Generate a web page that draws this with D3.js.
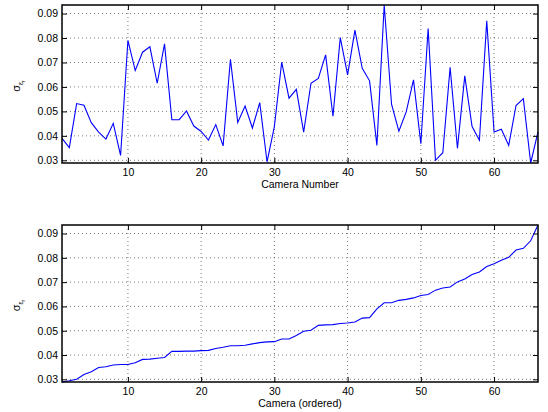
<!DOCTYPE html>
<html>
  <head>
    <meta charset="utf-8">
    <script src="https://d3js.org/d3.v7.min.js"></script>
    <style>
    body {
      margin: 0;
      background: #fff;
    }

    svg {
      display: block;
      font-family: "Liberation Sans", Arial, Helvetica, sans-serif;
    }

    .grid line {
      stroke: #444;
      stroke-width: 0.7;
      stroke-dasharray: 1, 3;
    }

    .axis text {
      font-size: 10.5px;
      fill: #000;
    }

    .axis line {
      stroke: #000;
    }

    .axis path {
      display: none;
    }
  </style>
  </head>
  <body>
    <div id="chart"></div>
    <script>
    // sigma per camera
    var cameraSigma = [
      0.0390, 0.0352, 0.0532, 0.0525, 0.0454, 0.0415, 0.0387, 0.0451, 0.0320, 0.0790,
      0.0667, 0.0742, 0.0764, 0.0615, 0.0776, 0.0466, 0.0466, 0.0502, 0.0440, 0.0418,
      0.0383, 0.0446, 0.0359, 0.0713, 0.0455, 0.0522, 0.0432, 0.0536, 0.0294, 0.0438,
      0.0701, 0.0554, 0.0590, 0.0415, 0.0615, 0.0635, 0.0731, 0.0480, 0.0802, 0.0649,
      0.0832, 0.0676, 0.0625, 0.0361, 0.0935, 0.0530, 0.0419, 0.0498, 0.0629, 0.0368,
      0.0839, 0.0300, 0.0331, 0.0680, 0.0349, 0.0645, 0.0438, 0.0382, 0.0870, 0.0416,
      0.0427, 0.0361, 0.0524, 0.0552, 0.0289, 0.0416
    ];

    // same values, ordered (bottom panel)
    var orderedSigma = [
      0.0289, 0.0294, 0.0300, 0.0320, 0.0331, 0.0349, 0.0352, 0.0359, 0.0361, 0.0361,
      0.0368, 0.0382, 0.0383, 0.0387, 0.0390, 0.0415, 0.0415, 0.0416, 0.0416, 0.0418,
      0.0419, 0.0427, 0.0432, 0.0438, 0.0438, 0.0440, 0.0446, 0.0451, 0.0454, 0.0455,
      0.0466, 0.0466, 0.0480, 0.0498, 0.0502, 0.0522, 0.0524, 0.0525, 0.0530, 0.0532,
      0.0536, 0.0552, 0.0554, 0.0590, 0.0615, 0.0615, 0.0625, 0.0629, 0.0635, 0.0645,
      0.0649, 0.0667, 0.0676, 0.0680, 0.0701, 0.0713, 0.0731, 0.0742, 0.0764, 0.0776,
      0.0790, 0.0802, 0.0832, 0.0839, 0.0870, 0.0935
    ];

    var xTicks = [10, 20, 30, 40, 50, 60];
    var yTicks = [0.03, 0.04, 0.05, 0.06, 0.07, 0.08, 0.09];

    var width = 548, height = 412;
    var left = 62, right = 538;

    var svg = d3.select("#chart").append("svg")
      .attr("width", width)
      .attr("height", height);

    var x = d3.scaleLinear().domain([1, 66]).range([left, right]);

    function drawPanel(values, top, bottom, xLabel) {
      var y = d3.scaleLinear().domain([0.0289, 0.0935]).range([bottom, top]);
      var g = svg.append("g");

      // dotted grid
      var grid = g.append("g").attr("class", "grid");
      grid.selectAll(".gx").data(xTicks).enter().append("line")
        .attr("x1", function (d) { return x(d); })
        .attr("x2", function (d) { return x(d); })
        .attr("y1", top)
        .attr("y2", bottom);
      grid.selectAll(".gy").data(yTicks).enter().append("line")
        .attr("x1", left)
        .attr("x2", right)
        .attr("y1", function (d) { return y(d); })
        .attr("y2", function (d) { return y(d); });

      // the line
      var line = d3.line()
        .x(function (d, i) { return x(i + 1); })
        .y(function (d) { return y(d); });
      g.append("path")
        .datum(values)
        .attr("fill", "none")
        .attr("stroke", "#0000ff")
        .attr("stroke-width", 1.1)
        .attr("d", line);

      // axes, ticks pointing inwards
      g.append("g").attr("class", "axis")
        .attr("transform", "translate(0," + bottom + ")")
        .call(d3.axisBottom(x).tickValues(xTicks).tickSizeInner(-5).tickSizeOuter(0).tickPadding(6));
      g.append("g").attr("class", "axis")
        .attr("transform", "translate(0," + top + ")")
        .call(d3.axisTop(x).tickValues(xTicks).tickSizeInner(-5).tickSizeOuter(0).tickFormat(""));
      g.append("g").attr("class", "axis")
        .attr("transform", "translate(" + left + ",0)")
        .call(d3.axisLeft(y).tickValues(yTicks).tickSizeInner(-5).tickSizeOuter(0).tickPadding(4)
          .tickFormat(d3.format(".2f")));
      g.append("g").attr("class", "axis")
        .attr("transform", "translate(" + right + ",0)")
        .call(d3.axisRight(y).tickValues(yTicks).tickSizeInner(-5).tickSizeOuter(0).tickFormat(""));

      g.append("rect")
        .attr("x", left)
        .attr("y", top)
        .attr("width", right - left)
        .attr("height", bottom - top)
        .attr("fill", "none")
        .attr("stroke", "#000")
        .attr("stroke-width", 1.5);

      g.append("text")
        .attr("x", (left + right) / 2)
        .attr("y", bottom + 25)
        .attr("text-anchor", "middle")
        .attr("font-size", "10.5px")
        .text(xLabel);

      var yl = g.append("text")
        .attr("transform", "translate(20," + ((top + bottom) / 2 + 2) + ") rotate(-90)")
        .attr("text-anchor", "middle")
        .attr("font-size", "11px");
      yl.append("tspan").text("σ");
      yl.append("tspan").attr("dy", 3).attr("font-size", "7px").text("ε");
      yl.append("tspan").attr("dy", 2).attr("font-size", "5px").text("r");
    }

    drawPanel(cameraSigma, 5, 163, "Camera Number");
    drawPanel(orderedSigma, 225, 382, "Camera (ordered)");
  </script>
  </body>
</html>
